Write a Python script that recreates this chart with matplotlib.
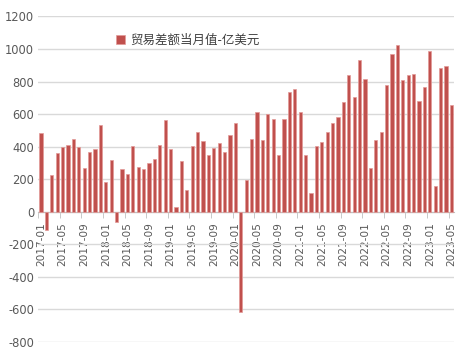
import pandas as pd
import matplotlib
matplotlib.use('Agg')
import matplotlib.pyplot as plt

plt.rcParams['font.family'] = ['Noto Sans CJK SC', 'DejaVu Sans']
plt.rcParams['axes.unicode_minus'] = False

# monthly trade balance, 2017-01 .. 2023-05 (USD 100m)
months = pd.period_range('2017-01', '2023-05', freq='M').strftime('%Y-%m').tolist()
balance = [
    485, -114, 227, 360, 397, 411, 448, 397, 268, 368, 383, 534,   # 2017
    182, 317, -63, 260, 233, 405, 274, 260, 297, 325, 411, 565,    # 2018
    385, 30, 311, 132, 405, 491, 434, 348, 391, 420, 368, 471,     # 2019
    543, -617, 196, 448, 612, 440, 600, 571, 348, 571, 735, 751,   # 2020
    612, 348, 112, 405, 428, 491, 543, 580, 672, 838, 707, 930,    # 2021
    813, 266, 440, 491, 778, 967, 1025, 809, 838, 844, 680, 766,   # 2022
    988, 159, 881, 893, 655,                                       # 2023
]
series_name = '贸易差额当月值-亿美元'
yticks = list(range(-800, 1201, 200))

fig = plt.figure(figsize=(4.61, 3.51), dpi=100)
ax = fig.add_axes([0.083, 0.027, 0.902, 0.926])

x = list(range(len(months)))
ax.bar(x, balance, width=0.6, color='#C0504D', edgecolor='#E39A98',
       linewidth=0.5, label=series_name, zorder=3)

ax.set_xlim(-0.5, len(months) - 0.5)
ax.set_ylim(-800, 1200)
ax.set_yticks(yticks)
ax.set_yticklabels([str(v) for v in yticks], family='DejaVu Sans', fontsize=8.3)
ax.grid(axis='y', color='#D9D9D9', linewidth=1, zorder=0)

# category axis sits at zero
ax.spines['bottom'].set_position(('data', 0))
ax.spines['bottom'].set_color('#BFBFBF')
for s in ['left', 'right', 'top']:
    ax.spines[s].set_visible(False)

ax.set_xticks(x[::4])
ax.set_xticklabels(months[::4], rotation=90, family='DejaVu Sans', fontsize=7.6)
ax.set_xticks([i - 0.5 for i in x[::4]], minor=True)
ax.tick_params(axis='x', which='major', length=0, pad=7.5, labelcolor='#595959')
ax.tick_params(axis='x', which='minor', length=4, color='#BFBFBF')
ax.tick_params(axis='y', length=0, pad=3, labelcolor='#595959')

ax.legend(loc='upper left', bbox_to_anchor=(0.228, 0.935), bbox_transform=fig.transFigure,
          frameon=False, fontsize=9, handlelength=0.7, handleheight=0.7,
          handletextpad=0.4, labelcolor='#404040')

fig.savefig('out.png', dpi=100)
